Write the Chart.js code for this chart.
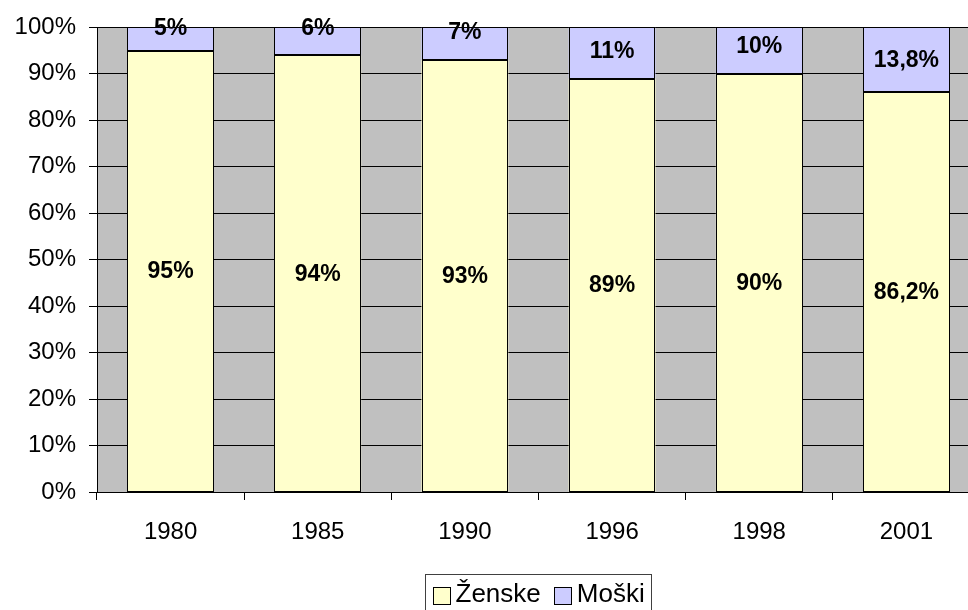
<!DOCTYPE html>
<html>
<head>
<meta charset="utf-8">
<script src="https://cdn.jsdelivr.net/npm/chart.js@4.4.1/dist/chart.umd.min.js"></script>
<style>
  html, body { margin: 0; padding: 0; background: #fff; overflow: hidden; }
  #wrap { width: 980px; height: 610px; position: relative; }
</style>
</head>
<body>
<div id="wrap"><canvas id="c"></canvas></div>
<script>
const categories = ['1980', '1985', '1990', '1996', '1998', '2001'];
const zenske = [95, 94, 93, 89, 90, 86.2];
const moski = [5, 6, 7, 11, 10, 13.8];
const seriesNames = ['Ženske', 'Moški'];
const seriesColors = ['#FFFFCC', '#CCCCFF'];

const FONT = '"Liberation Sans", Arial, Helvetica, sans-serif';

const bgPlugin = {
  id: 'plotBg',
  beforeDraw(chart) {
    const a = chart.chartArea, ctx = chart.ctx;
    ctx.save();
    ctx.fillStyle = '#C0C0C0';
    ctx.fillRect(a.left, a.top, a.right - a.left, a.bottom - a.top);
    ctx.restore();
  }
};

const fmt = v => String(v).replace('.', ',') + '%';

const outlinePlugin = {
  id: 'barOutline',
  afterDatasetsDraw(chart) {
    const ctx = chart.ctx;
    ctx.save();
    ctx.strokeStyle = '#000';
    ctx.lineWidth = 1;
    chart.data.datasets.forEach((ds, di) => {
      chart.getDatasetMeta(di).data.forEach(bar => {
        const l = Math.round(bar.x - bar.width / 2) + 0.5;
        const r = Math.round(bar.x + bar.width / 2) - 0.5;
        const t = Math.round(Math.min(bar.y, bar.base)) + 0.5;
        const b = Math.round(Math.max(bar.y, bar.base)) - 0.5;
        ctx.fillStyle = ds.backgroundColor;
        ctx.fillRect(l - 0.5, t - 0.5, r - l + 1, b - t + 1);
        ctx.strokeRect(l, t, r - l, b - t);
      });
    });
    ctx.restore();
  }
};

const labelPlugin = {
  id: 'barLabels',
  afterDatasetsDraw(chart) {
    const ctx = chart.ctx;
    ctx.save();
    ctx.font = 'bold 23px ' + FONT;
    ctx.fillStyle = '#000';
    ctx.textAlign = 'center';
    ctx.textBaseline = 'middle';
    chart.data.datasets.forEach((ds, di) => {
      const meta = chart.getDatasetMeta(di);
      meta.data.forEach((bar, i) => {
        const top = Math.min(bar.y, bar.base);
        const h = Math.abs(bar.base - bar.y);
        const off = Math.max(0, Math.min(h - 28, h / 2));
        ctx.fillText(fmt(ds.data[i]), bar.x, top + off + 1);
      });
    });
    ctx.restore();
  }
};

const legendPlugin = {
  id: 'boxLegend',
  afterDraw(chart) {
    const ctx = chart.ctx, a = chart.chartArea;
    ctx.save();
    ctx.font = '26px ' + FONT;
    const pad = 7, box = 18, gap = 5, itemGap = 13;
    const widths = seriesNames.map(n => ctx.measureText(n).width);
    let total = pad * 2;
    widths.forEach((w, i) => { total += box + gap + w + (i < widths.length - 1 ? itemGap : 0); });
    const cx = (a.left + a.right) / 2;
    const left = Math.round(cx - total / 2) + 0.5;
    const top = 574.5, cy = 595;
    ctx.strokeStyle = '#404040';
    ctx.lineWidth = 1;
    ctx.strokeRect(left, top, Math.round(total), 50);
    let x = left + pad;
    ctx.textBaseline = 'middle';
    ctx.textAlign = 'left';
    seriesNames.forEach((n, i) => {
      const bx = Math.round(x), by = Math.round(cy - box / 2 + 1);
      ctx.fillStyle = seriesColors[i];
      ctx.fillRect(bx, by, box, box);
      ctx.strokeStyle = '#000';
      ctx.strokeRect(bx + 0.5, by + 0.5, box - 1, box - 1);
      x += box + gap;
      ctx.fillStyle = '#000';
      ctx.fillText(n, x, cy);
      x += widths[i] + itemGap;
    });
    ctx.restore();
  }
};

new Chart(document.getElementById('c'), {
  type: 'bar',
  data: {
    labels: categories,
    datasets: [
      { label: seriesNames[0], data: zenske, backgroundColor: seriesColors[0], borderWidth: 0 },
      { label: seriesNames[1], data: moski, backgroundColor: seriesColors[1], borderWidth: 0 }
    ]
  },
  options: {
    responsive: true,
    maintainAspectRatio: false,
    animation: false,
    layout: { padding: { top: 27, left: 0, right: 0, bottom: 40 } },
    datasets: { bar: { barPercentage: 0.59, categoryPercentage: 1.0 } },
    plugins: { legend: { display: false }, tooltip: { enabled: false } },
    scales: {
      x: {
        stacked: true,
        grid: { display: true, drawOnChartArea: false, drawTicks: true, tickLength: 8, color: '#000', offset: true },
        border: { display: true, color: '#000' },
        ticks: { color: '#000', font: { family: FONT, size: 24 }, padding: 18, maxRotation: 0 },
        afterFit(scale) { scale.height = 78; }
      },
      y: {
        stacked: true,
        min: 0, max: 100,
        grid: { color: '#000', lineWidth: 1, tickLength: 8, drawTicks: true },
        border: { display: true, color: '#000' },
        ticks: { stepSize: 10, color: '#000', font: { family: FONT, size: 24 }, padding: 13, callback: v => v + '%' },
        afterFit(scale) { scale.width = 97; }
      }
    }
  },
  plugins: [bgPlugin, outlinePlugin, labelPlugin, legendPlugin]
});
</script>
</body>
</html>
